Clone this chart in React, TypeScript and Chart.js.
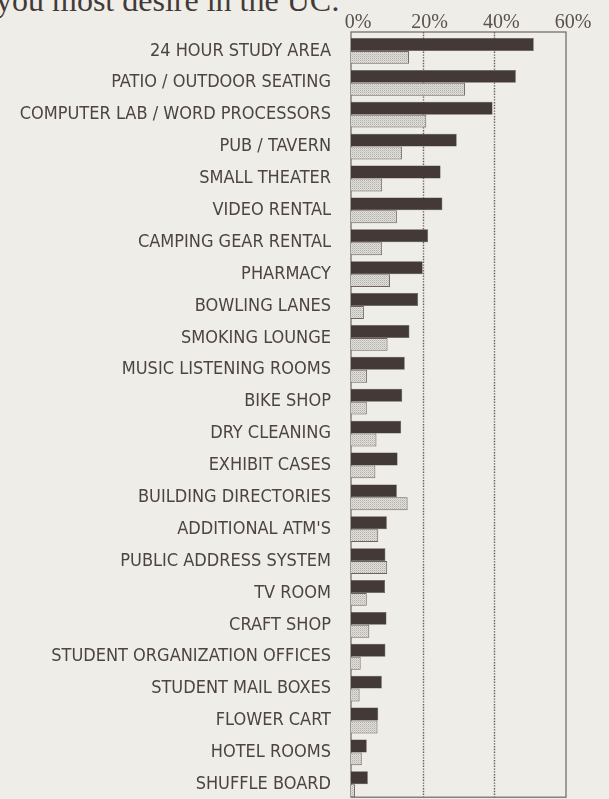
import React, { useEffect, useRef } from "react";
import { Chart, registerables } from "chart.js";

Chart.register(...registerables);

const categories = [
  "24 HOUR STUDY AREA",
  "PATIO / OUTDOOR SEATING",
  "COMPUTER LAB / WORD PROCESSORS",
  "PUB / TAVERN",
  "SMALL THEATER",
  "VIDEO RENTAL",
  "CAMPING GEAR RENTAL",
  "PHARMACY",
  "BOWLING LANES",
  "SMOKING LOUNGE",
  "MUSIC LISTENING ROOMS",
  "BIKE SHOP",
  "DRY CLEANING",
  "EXHIBIT CASES",
  "BUILDING DIRECTORIES",
  "ADDITIONAL ATM'S",
  "PUBLIC ADDRESS SYSTEM",
  "TV ROOM",
  "CRAFT SHOP",
  "STUDENT ORGANIZATION OFFICES",
  "STUDENT MAIL BOXES",
  "FLOWER CART",
  "HOTEL ROOMS",
  "SHUFFLE BOARD",
];

const darkValues = [51, 46, 39.5, 29.5, 25, 25.5, 21.5, 20, 18.7, 16.3, 15, 14.3, 14, 13, 12.8, 10, 9.6, 9.5, 9.9, 9.6, 8.6, 7.6, 4.4, 4.7];
const lightValues = [16.2, 31.8, 21, 14.2, 8.7, 12.8, 8.7, 10.9, 3.6, 10.2, 4.5, 4.4, 7.1, 6.8, 15.8, 7.6, 10.1, 4.4, 5.1, 2.7, 2.4, 7.4, 3, 1.1];

const tickValues = [0, 20, 40, 60];
const gridValues = [20, 40];

const INK = "#433a37";
const PAPER = "#eeede8";

const framePlugin = {
  id: "frame",
  beforeDatasetsDraw(chart: any) {
    const { ctx, chartArea, scales } = chart;
    const x = scales.x;
    const top = chartArea.top - 3;
    const bottom = chartArea.bottom - 3;
    ctx.save();
    ctx.strokeStyle = "#6a5f5b";
    ctx.lineWidth = 1.4;
    ctx.setLineDash([1.4, 1.4]);
    for (const v of gridValues) {
      const px = Math.round(x.getPixelForValue(v)) + 0.5;
      ctx.beginPath();
      ctx.moveTo(px, top);
      ctx.lineTo(px, bottom);
      ctx.stroke();
    }
    ctx.setLineDash([]);
    ctx.lineWidth = 1.2;
    ctx.strokeStyle = "#6f6460";
    const x0 = x.getPixelForValue(tickValues[0]);
    const x1 = x.getPixelForValue(tickValues[tickValues.length - 1]);
    ctx.strokeRect(x0, top, x1 - x0, bottom - top);
    ctx.restore();
  },
};

export default function App() {
  const ref = useRef<HTMLCanvasElement>(null);

  useEffect(() => {
    document.body.style.background = PAPER;
    const canvas = ref.current!;
    const pc = document.createElement("canvas");
    pc.width = 2;
    pc.height = 2;
    const pctx = pc.getContext("2d")!;
    pctx.fillStyle = "#e2e0db";
    pctx.fillRect(0, 0, 2, 2);
    pctx.fillStyle = "#b3afa9";
    pctx.fillRect(0, 0, 1, 1);
    pctx.fillStyle = "#cbc8c3";
    pctx.fillRect(1, 1, 1, 1);
    const pattern = canvas.getContext("2d")!.createPattern(pc, "repeat");

    const chart = new Chart(canvas, {
      type: "bar",
      data: {
        labels: categories,
        datasets: [
          {
            data: darkValues,
            backgroundColor: INK,
            borderColor: "#524744",
            borderWidth: 0.5,
            categoryPercentage: 0.81,
            barPercentage: 1,
          },
          {
            data: lightValues,
            backgroundColor: pattern as any,
            borderColor: "#6e625d",
            borderWidth: 1,
            categoryPercentage: 0.81,
            barPercentage: 1,
          },
        ],
      },
      options: {
        indexAxis: "y",
        animation: false,
        responsive: false,
        events: [],
        layout: { autoPadding: false, padding: { left: 0, right: 43, top: 0, bottom: 5 } },
        plugins: { legend: { display: false }, tooltip: { enabled: false } },
        scales: {
          x: {
            position: "top",
            min: 0,
            max: 60,
            afterBuildTicks: (scale: any) => {
              scale.ticks = tickValues.map((v) => ({ value: v }));
            },
            afterFit: (scale: any) => {
              scale.height = 35;
            },
            ticks: {
              callback: (v: any) => v + "%",
              font: { family: "Liberation Serif", size: 20 },
              color: "#5b504d",
              labelOffset: 7,
              padding: -8,
              maxRotation: 0,
            },
            grid: { display: false },
            border: { display: false },
          },
          y: {
            afterFit: (scale: any) => {
              scale.width = 351;
            },
            ticks: {
              autoSkip: false,
              font: { family: "DejaVu Sans Condensed", size: 18 },
              color: "#4d4442",
              padding: 12,
            },
            grid: { display: false },
            border: { display: false },
          },
        },
      },
      plugins: [framePlugin],
    });
    return () => chart.destroy();
  }, []);

  return (
    <div
      style={{
        position: "fixed",
        left: 0,
        top: 0,
        width: 609,
        height: 799,
        overflow: "hidden",
        background: PAPER,
      }}
    >
      <div
        style={{
          position: "absolute",
          left: -4,
          top: -16,
          fontFamily: "Liberation Serif",
          fontSize: 32,
          lineHeight: "32px",
          color: INK,
          whiteSpace: "nowrap",
        }}
      >
        you most desire in the UC:
      </div>
      <canvas ref={ref} width={609} height={823} style={{ position: "absolute", left: 0, top: 0 }} />
    </div>
  );
}
